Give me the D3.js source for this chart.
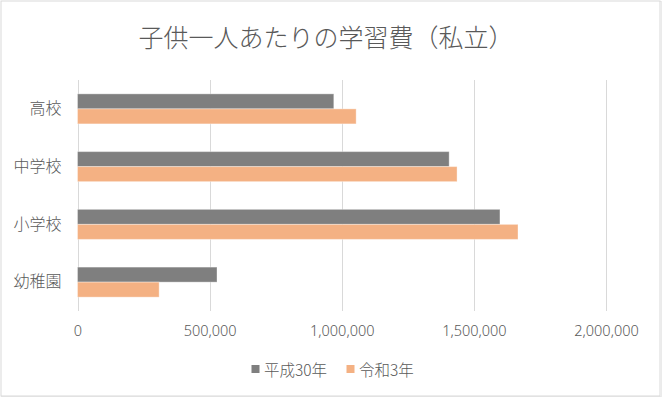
<!DOCTYPE html>
<html><head><meta charset="utf-8">
<script src="https://cdn.jsdelivr.net/npm/d3@7"></script>
<style>
html,body{margin:0;padding:0;background:#fff;}
text{font-family:"Noto Sans CJK JP","Noto Sans",sans-serif;fill:#595959;font-weight:300;}
</style></head>
<body>
<svg id="chart" width="665" height="400"></svg>
<script>
const categories = ["高校", "中学校", "小学校", "幼稚園"];
const seriesNames = ["平成30年", "令和3年"];
const valuesH30 = [969911, 1406433, 1598691, 527916];
const valuesR3 = [1054444, 1436353, 1666949, 308909];
const tickValues = [0, 500000, 1000000, 1500000, 2000000];
const colors = ["#7f7f7f", "#f4b183"];
const title = "子供一人あたりの学習費（私立）";

const svg = d3.select("#chart");
svg.append("rect").attr("x",1.5).attr("y",1.5).attr("width",660).attr("height",395)
  .attr("fill","none").attr("stroke","#ebebeb").attr("stroke-width",1);
svg.append("rect").attr("x",1).attr("y",1).attr("width",659).attr("height",395)
  .attr("fill","#fff").attr("stroke","#d9d9d9").attr("stroke-width",1);

const x = d3.scaleLinear().domain([0, 2000000]).range([77.5, 606]);
const y = d3.scaleBand().domain(categories).range([80, 311]).paddingInner(0.48).paddingOuter(0.24);
const sub = d3.scaleBand().domain(seriesNames).range([0, y.bandwidth()]);

// gridlines
svg.append("g").selectAll("line").data(tickValues).join("line")
  .attr("x1", d => Math.round(x(d)) + 0.5).attr("x2", d => Math.round(x(d)) + 0.5)
  .attr("y1", 80).attr("y2", 311)
  .attr("stroke", "#d9d9d9").attr("stroke-width", 1);

// x tick labels
const xAxis = d3.axisBottom(x).tickValues(tickValues).tickFormat(d3.format(",")).tickSize(0).tickPadding(0);
const gx = svg.append("g").attr("transform", "translate(0,327)").call(xAxis);
gx.select(".domain").remove();
gx.selectAll("text").attr("font-size", "14.5px").attr("dy", "0.6em")
  .style("font-family", '"Noto Sans","Noto Sans CJK JP",sans-serif').attr("fill","#595959");

// y labels
const yAxis = d3.axisLeft(y).tickSize(0).tickPadding(16);
const gy = svg.append("g").attr("transform", "translate(77.5,0)").call(yAxis);
gy.select(".domain").remove();
gy.selectAll("text").attr("font-size", "16px").attr("fill","#595959")
  .style("font-family", '"Noto Sans CJK JP",sans-serif');

// bars
const data = categories.map((c, i) => ({cat: c, vals: [valuesH30[i], valuesR3[i]]}));
const groups = svg.append("g").selectAll("g").data(data).join("g")
  .attr("transform", d => `translate(0,${y(d.cat)})`);
groups.selectAll("rect").data(d => d.vals.map((v, j) => ({name: seriesNames[j], v, j})))
  .join("rect")
  .attr("x", x(0)).attr("y", d => sub(d.name))
  .attr("width", d => x(d.v) - x(0)).attr("height", sub.bandwidth())
  .attr("fill", d => colors[d.j])
  .attr("stroke", "#ffffff").attr("stroke-opacity", 0.35).attr("stroke-width", 1);

// title
svg.append("text").attr("x", 326).attr("y", 36).attr("text-anchor", "middle")
  .attr("dominant-baseline", "central").attr("font-size", "25px").text(title);

// legend
const legendX = [251.5, 346.5];
const lg = svg.append("g").selectAll("g").data(seriesNames).join("g")
  .attr("transform", (d, i) => `translate(${legendX[i]},369)`);
lg.append("rect").attr("x", 0).attr("y", -4).attr("width", 8).attr("height", 8)
  .attr("fill", (d, i) => colors[i]);
lg.append("text").attr("x", 12.5).attr("y", 0).attr("dominant-baseline", "central")
  .attr("font-size", "15.5px").text(d => d);
</script>
</body></html>
